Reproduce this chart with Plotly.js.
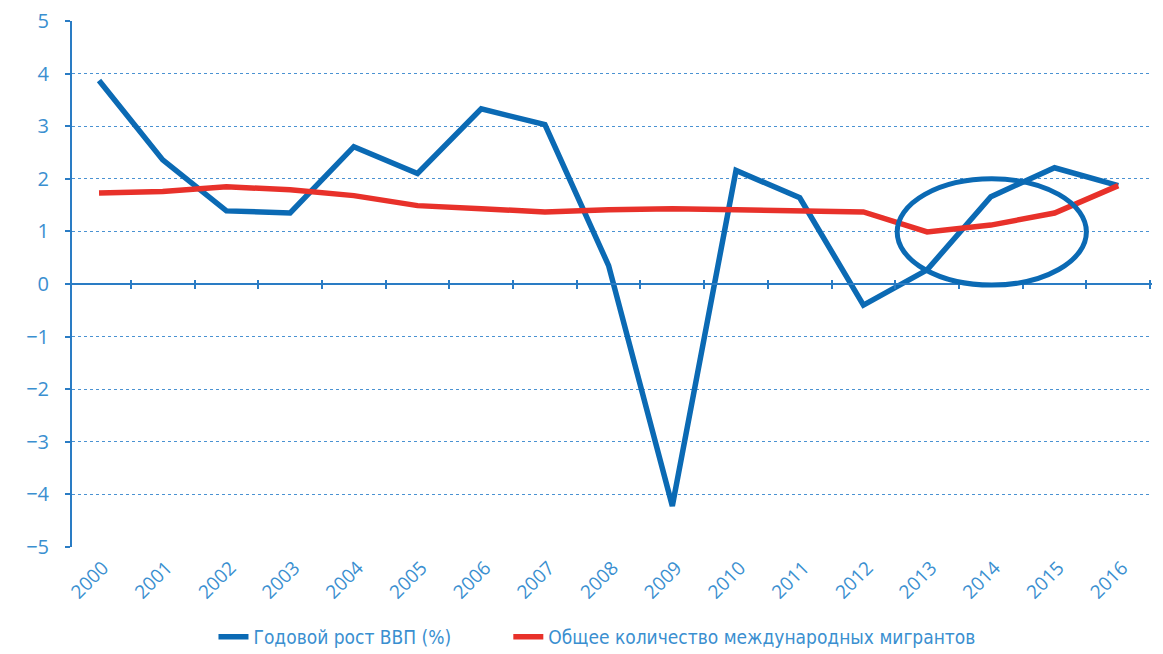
<!DOCTYPE html>
<html>
<head>
<meta charset="utf-8">
<script src="https://cdn.plot.ly/plotly-3.0.1.min.js"></script>
<style>html,body{margin:0;padding:0;background:#fff;}#chart{width:1163px;height:654px;}</style>
</head>
<body>
<div id="chart"></div>
<script>
const years = [2000,2001,2002,2003,2004,2005,2006,2007,2008,2009,2010,2011,2012,2013,2014,2015,2016];
const gdpGrowth = [3.87,2.36,1.39,1.35,2.61,2.10,3.33,3.03,0.35,-4.22,2.16,1.64,-0.40,0.27,1.66,2.21,1.87];
const migrants = [1.73,1.76,1.85,1.79,1.68,1.49,1.43,1.37,1.41,1.43,1.41,1.39,1.37,0.99,1.12,1.35,1.87];
const seriesNames = ['Годовой рост ВВП (%)', 'Общее количество международных мигрантов'];
const yTicks = [-5,-4,-3,-2,-1,0,1,2,3,4,5];
const boundaryTicks = years.map(y => y + 0.5);

const blue = '#0b6ab4';
const red = '#e8312a';
const labelColor = '#3a8fd0';
const axisColor = '#2a7cc4';

const xRange = [1999.576, 2016.53];
const legendFont = {family: 'DejaVu Sans Condensed, DejaVu Sans', size: 19, color: labelColor};

const traces = [
  {x: years, y: gdpGrowth, name: seriesNames[0], type: 'scatter', mode: 'lines',
   line: {color: blue, width: 5.5}, legend: 'legend'},
  {x: years, y: migrants, name: seriesNames[1], type: 'scatter', mode: 'lines',
   line: {color: red, width: 5.5}, legend: 'legend2'}
];

const layout = {
  width: 1163, height: 654,
  margin: {l: 72, r: 11, t: 21, b: 107, autoexpand: false},
  paper_bgcolor: '#fff', plot_bgcolor: '#fff',
  showlegend: true,
  legend: {orientation: 'h', x: 0.131, xanchor: 'left', y: -0.171, yanchor: 'middle', font: legendFont},
  legend2: {orientation: 'h', x: 0.404, xanchor: 'left', y: -0.171, yanchor: 'middle', font: legendFont},
  xaxis: {range: xRange, tickmode: 'array', tickvals: years, ticktext: years.map(String),
    tickangle: -45, showgrid: false, zeroline: false, showline: false, ticks: '',
    automargin: false,
    tickfont: {family: 'Open Sans', size: 19, color: labelColor}, ticklabelshift: 4, ticklabelstandoff: 5},
  xaxis2: {range: xRange, overlaying: 'x', anchor: 'free', position: 0.5, side: 'bottom',
    showline: true, linecolor: axisColor, linewidth: 2, ticks: 'outside', ticklen: 4, tickwidth: 2,
    tickcolor: axisColor, tickmode: 'array', tickvals: boundaryTicks, showticklabels: false,
    showgrid: false, zeroline: false},
  xaxis3: {range: xRange, overlaying: 'x', anchor: 'free', position: 0.5, side: 'bottom',
    showline: false, ticks: 'inside', ticklen: 4, tickwidth: 2,
    tickcolor: axisColor, tickmode: 'array', tickvals: boundaryTicks, showticklabels: false,
    showgrid: false, zeroline: false},
  yaxis: {range: [-5, 5], tickmode: 'array', tickvals: yTicks, showgrid: true,
    gridcolor: '#4a92d2', griddash: 'dot', gridwidth: 1, zeroline: false, automargin: false,
    showline: true, linecolor: axisColor, linewidth: 2, ticks: 'outside', ticklen: 5, tickwidth: 2,
    tickcolor: axisColor, ticklabelstandoff: 12,
    tickfont: {family: 'Open Sans', size: 20, color: labelColor}},
  shapes: [
    {type: 'circle', xref: 'x', yref: 'y', x0: 2012.53, x1: 2015.5, y0: -0.02, y1: 2.0,
     line: {color: blue, width: 5}}
  ]
};

traces.push({x: [years[0]], y: [0], xaxis: 'x2', type: 'scatter', mode: 'none', showlegend: false, hoverinfo: 'skip'});
traces.push({x: [years[0]], y: [0], xaxis: 'x3', type: 'scatter', mode: 'none', showlegend: false, hoverinfo: 'skip'});

Plotly.newPlot('chart', traces, layout, {displayModeBar: false, staticPlot: true});
</script>
</body>
</html>
